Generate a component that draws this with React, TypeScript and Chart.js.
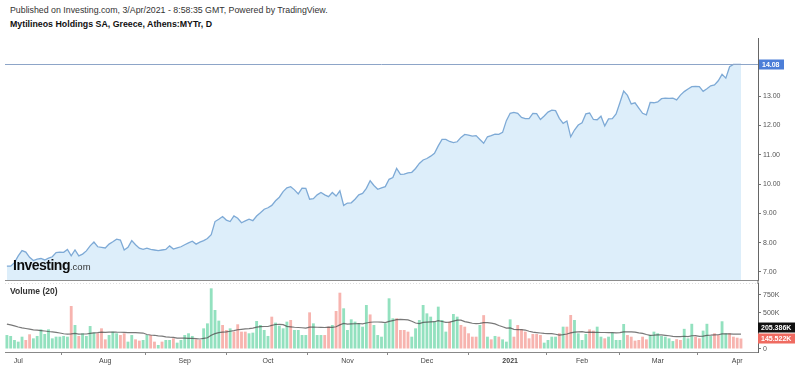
import React, { useEffect, useRef } from 'react';
import { Chart, registerables } from 'chart.js';

Chart.register(...registerables);

const FONT = "'Liberation Sans', Arial, Helvetica, sans-serif";

// ---- calendar (Athens exchange trading days) ----
const startDate = '2020-06-26';
const endDate = '2021-04-02';
const exchangeHolidays = ['2020-10-28', '2020-12-25', '2021-01-01', '2021-01-06', '2021-03-15', '2021-03-25'];
const emptySlotsAfterLast = 4;

// ---- month tick labels (first trading day of each month) ----
const monthTickLabels = ['Jul', 'Aug', 'Sep', 'Oct', 'Nov', 'Dec', '2021', 'Feb', 'Mar', 'Apr'];
const boldTickLabels = ['2021'];

// ---- axis ticks ----
const priceTicks = [7, 8, 9, 10, 11, 12, 13];
const volumeTicksK = [0, 500, 750];

// ---- daily close (EUR) ----
const closePrices = [
  7.20, 7.20, 7.32, 7.55, 7.73, 7.68, 7.50, 7.39, 7.44, 7.46,
  7.41, 7.47, 7.52, 7.66, 7.68, 7.67, 7.77, 7.55, 7.75, 7.55,
  7.61, 7.72, 7.89, 8.02, 7.86, 7.84, 7.82, 7.95, 8.03, 8.12,
  8.09, 7.75, 7.84, 8.07, 7.93, 7.81, 7.77, 7.81, 7.77, 7.75,
  7.73, 7.75, 7.77, 7.89, 7.78, 7.82, 7.86, 7.93, 7.99, 8.05,
  7.95, 8.02, 8.07, 8.14, 8.27, 8.72, 8.80, 8.89, 8.77, 8.72,
  8.91, 8.83, 8.68, 8.74, 8.80, 8.75, 8.91, 9.02, 9.14, 9.19,
  9.27, 9.43, 9.55, 9.74, 9.87, 9.91, 9.80, 9.66, 9.86, 9.85,
  9.48, 9.50, 9.63, 9.71, 9.63, 9.57, 9.71, 9.59, 9.77, 9.27,
  9.35, 9.36, 9.48, 9.63, 9.68, 9.85, 10.11, 9.95, 9.82, 9.87,
  9.91, 10.16, 10.22, 10.53, 10.33, 10.34, 10.38, 10.40, 10.53, 10.70,
  10.82, 10.87, 10.95, 11.05, 11.30, 11.52, 11.52, 11.45, 11.41, 11.44,
  11.59, 11.69, 11.67, 11.63, 11.65, 11.52, 11.39, 11.61, 11.65, 11.70,
  11.69, 11.76, 12.16, 12.41, 12.44, 12.41, 12.27, 12.23, 12.23, 12.41,
  12.40, 12.20, 12.32, 12.45, 12.52, 12.50, 12.24, 12.07, 12.15, 11.61,
  11.84, 12.01, 12.09, 12.39, 12.42, 12.20, 12.19, 12.31, 11.98, 12.22,
  12.23, 12.39, 12.77, 13.17, 13.02, 12.73, 12.77, 12.59, 12.41, 12.36,
  12.78, 12.77, 12.80, 12.91, 12.93, 12.92, 12.93, 12.87, 13.03, 13.15,
  13.24, 13.32, 13.33, 13.32, 13.16, 13.25, 13.35, 13.38, 13.52, 13.74,
  13.61, 14.00, 14.08, 14.08, 14.08,
];

// ---- daily volume (thousands of shares) ----
const volumesK = [
  194, 181, 125, 102, 171, 125, 204, 148, 181, 273,
  208, 273, 148, 171, 171, 181, 171, 597, 333, 181,
  218, 181, 319, 227, 218, 287, 134, 194, 241, 218,
  194, 218, 102, 194, 134, 116, 125, 194, 194, 102,
  56, 102, 125, 125, 148, 88, 125, 194, 218, 181,
  134, 125, 287, 356, 843, 542, 394, 333, 264, 287,
  241, 343, 241, 241, 218, 227, 389, 333, 264, 181,
  449, 366, 324, 287, 380, 403, 264, 264, 194, 194,
  509, 356, 194, 194, 194, 310, 333, 528, 782, 565,
  264, 412, 380, 356, 310, 611, 480, 333, 194, 171,
  356, 704, 426, 426, 264, 264, 241, 171, 287, 403,
  611, 495, 449, 380, 588, 403, 241, 380, 486, 449,
  333, 310, 218, 171, 171, 333, 470, 171, 134, 181,
  171, 134, 102, 412, 171, 333, 273, 241, 148, 208,
  208, 194, 88, 125, 171, 171, 218, 310, 310, 472,
  403, 218, 125, 208, 273, 255, 310, 171, 148, 171,
  227, 125, 125, 347, 194, 171, 116, 125, 171, 134,
  194, 241, 218, 181, 171, 148, 110, 136.198, 125, 280,
  148, 350, 171, 148, 255, 350, 180, 218, 194, 385,
  218, 218, 171, 157, 145.522,
];

// ---- candle direction per day (u = close above open, d = below) ----
const candleDirection =
  'uuuuudduuu' + 'uuuuuuudud' + 'uuuuddduuu' + 'dduudduudd' + 'uduuduuuuu' +
  'dduuuuuddu' + 'dddduuuuuu' + 'duuuuduuuu' + 'duuudduddu' + 'uuuuuuduuu' +
  'uuudddduuu' + 'uuuuuuuduu' + 'dddddududu' + 'duuudddddd' + 'dduuuududd' +
  'uuuudduudu' + 'uuuudddddd' + 'uuuuuuuddu' + 'uudduuuddu' + 'udddd';

// ---- Volume MA(20): first 19 values (earlier history not shown) ----
const volumeMAStartK = [345, 335, 322, 305, 293, 285, 276, 266, 261, 256, 250, 243, 238, 231, 222, 212, 207, 210, 216];
const maPeriod = 20;

function isoDay(d: Date) {
  return d.toISOString().slice(0, 10);
}

function buildTradingDays(): string[] {
  const out: string[] = [];
  const [sy, sm, sd] = startDate.split('-').map(Number);
  const d = new Date(Date.UTC(sy, sm - 1, sd));
  while (isoDay(d) <= endDate) {
    const wd = d.getUTCDay();
    const s = isoDay(d);
    if (wd !== 0 && wd !== 6 && !exchangeHolidays.includes(s)) out.push(s);
    d.setUTCDate(d.getUTCDate() + 1);
  }
  return out;
}

function noPad(s: any) {
  s.paddingTop = 0;
  s.paddingBottom = 0;
  s.paddingLeft = 0;
  s.paddingRight = 0;
}

export default function App() {
  const priceRef = useRef<HTMLCanvasElement | null>(null);
  const volRef = useRef<HTMLCanvasElement | null>(null);

  useEffect(() => {
    document.body.style.margin = '0';
    const days = buildTradingDays();
    const categories = [...days];
    for (let i = 0; i < emptySlotsAfterLast; i++) categories.push('');

    const monthIdx: number[] = [];
    for (let i = 1; i < days.length; i++) {
      if (days[i].slice(0, 7) !== days[i - 1].slice(0, 7)) monthIdx.push(i);
    }
    const tickLabelByIdx: Record<number, string> = {};
    monthIdx.forEach((idx, k) => {
      tickLabelByIdx[idx] = monthTickLabels[k] ?? '';
    });

    const ma: number[] = volumesK.map((_, i) => {
      if (i < maPeriod - 1) return volumeMAStartK[i];
      let s = 0;
      for (let j = i - maPeriod + 1; j <= i; j++) s += volumesK[j];
      return s / maPeriod;
    });

    const upColor = '#93e1bf';
    const downColor = '#f7b4af';
    const barColors = volumesK.map((_, i) => (candleDirection[i] === 'd' ? downColor : upColor));
    const lastPrice = closePrices[closePrices.length - 1];

    const pricePlugin = {
      id: 'lastPriceMarker',
      afterDraw(chart: any) {
        const { ctx, chartArea, scales } = chart;
        const y = Math.round(scales.y.getPixelForValue(lastPrice)) + 0.5;
        ctx.save();
        ctx.strokeStyle = '#8da5c8';
        ctx.lineWidth = 1;
        ctx.beginPath();
        ctx.moveTo(chartArea.left, y);
        ctx.lineTo(chartArea.right, y);
        ctx.stroke();
        ctx.fillStyle = '#4c7ed8';
        ctx.fillRect(chartArea.right + 1, y - 5, 25, 10);
        ctx.fillStyle = '#ffffff';
        ctx.font = `bold 7px ${FONT}`;
        ctx.textBaseline = 'middle';
        ctx.textAlign = 'left';
        ctx.fillText(lastPrice.toFixed(2), chartArea.right + 4, y + 0.5);
        ctx.restore();
      },
    };

    const volPlugin = {
      id: 'volumeMarkers',
      afterDraw(chart: any) {
        const { ctx, chartArea, scales } = chart;
        ctx.save();
        ctx.fillStyle = '#8c8c8c';
        ctx.fillRect(chartArea.left, 0, chartArea.right - chartArea.left + 1, 1);
        ctx.fillStyle = '#666';
        ctx.fillRect(chartArea.right - 0.5, 0, 1, chartArea.top + 1);
        ctx.strokeStyle = '#dedede';
        ctx.setLineDash([1, 2]);
        ctx.beginPath();
        ctx.moveTo(chartArea.left, chartArea.top + 0.5);
        ctx.lineTo(chartArea.right, chartArea.top + 0.5);
        ctx.stroke();
        ctx.setLineDash([]);
        const lastVol = volumesK[volumesK.length - 1];
        const lastMa = ma[ma.length - 1];
        const yV = scales.y.getPixelForValue(lastVol);
        let yM = scales.y.getPixelForValue(lastMa);
        if (yM > yV - 11) yM = yV - 11;
        const bx = chartArea.right;
        ctx.font = `bold 7px ${FONT}`;
        ctx.textBaseline = 'middle';
        ctx.textAlign = 'left';
        ctx.fillStyle = '#111111';
        ctx.fillRect(bx, yM - 5, 37, 10);
        ctx.fillStyle = '#ffffff';
        ctx.fillText(`${lastMa.toFixed(3)}K`, bx + 3, yM + 0.5);
        ctx.fillStyle = '#ef6b61';
        ctx.fillRect(bx, yV - 5, 37, 10);
        ctx.fillStyle = '#ffffff';
        ctx.fillText(`${lastVol.toFixed(3)}K`, bx + 3, yV + 0.5);
        ctx.restore();
      },
    };

    const priceChart = new Chart(priceRef.current as HTMLCanvasElement, {
      type: 'line',
      data: {
        labels: categories,
        datasets: [
          {
            data: closePrices,
            borderColor: '#7eaad6',
            borderWidth: 1.3,
            backgroundColor: '#ddeefa',
            fill: 'start',
            pointRadius: 0,
            tension: 0,
          },
        ],
      },
      options: {
        animation: false,
        responsive: false,
        maintainAspectRatio: false,
        devicePixelRatio: 1,
        layout: { padding: { left: 5, right: 0, top: 0, bottom: 0 }, autoPadding: false },
        plugins: { legend: { display: false }, tooltip: { enabled: false } },
        scales: {
          x: { type: 'category', offset: true, display: false, afterFit: noPad },
          y: {
            position: 'right',
            min: 6.727,
            max: 14.978,
            afterFit: (s: any) => {
              s.width = 42;
              noPad(s);
            },
            afterBuildTicks: (s: any) => {
              s.ticks = priceTicks.map((v) => ({ value: v }));
            },
            ticks: {
              callback: (v: any) => Number(v).toFixed(2),
              font: { family: FONT, size: 7 },
              color: '#555',
              padding: 2,
            },
            grid: { drawOnChartArea: false, drawTicks: true, tickLength: 3, color: '#777' },
            border: { display: true, color: '#666', width: 1 },
          },
        },
      },
      plugins: [pricePlugin],
    } as any);

    const volChart = new Chart(volRef.current as HTMLCanvasElement, {
      type: 'bar',
      data: {
        labels: categories,
        datasets: [
          {
            type: 'line',
            data: ma,
            borderColor: 'rgba(75,75,75,0.75)',
            borderWidth: 1.2,
            pointRadius: 0,
            tension: 0,
            fill: false,
            order: 0,
          },
          {
            type: 'bar',
            data: volumesK,
            backgroundColor: barColors,
            barPercentage: 0.75,
            categoryPercentage: 1,
            order: 1,
          },
        ],
      },
      options: {
        animation: false,
        responsive: false,
        maintainAspectRatio: false,
        devicePixelRatio: 1,
        layout: { padding: { left: 5, right: 0, top: 3, bottom: 0 }, autoPadding: false },
        plugins: { legend: { display: false }, tooltip: { enabled: false } },
        scales: {
          x: {
            type: 'category',
            offset: true,
            afterFit: (s: any) => {
              s.height = 17;
              noPad(s);
            },
            afterBuildTicks: (s: any) => {
              s.ticks = monthIdx.map((i) => ({ value: i }));
            },
            ticks: {
              autoSkip: false,
              maxRotation: 0,
              minRotation: 0,
              padding: 2,
              color: '#444',
              callback: (v: any) => tickLabelByIdx[Number(v)] ?? '',
              font: (c: any) => ({
                family: FONT,
                size: 7,
                weight: c.tick && boldTickLabels.includes(tickLabelByIdx[c.tick.value]) ? 'bold' : 'normal',
              }),
            },
            grid: { drawOnChartArea: false, drawTicks: true, tickLength: 3, color: '#888' },
            border: { display: true, color: '#888', width: 1 },
          },
          y: {
            position: 'right',
            min: -41.7,
            max: 916.6,
            afterFit: (s: any) => {
              s.width = 42;
              noPad(s);
            },
            afterBuildTicks: (s: any) => {
              s.ticks = volumeTicksK.map((v) => ({ value: v }));
            },
            ticks: {
              callback: (v: any) => (Number(v) === 0 ? '0' : `${v}K`),
              font: { family: FONT, size: 7 },
              color: '#555',
              padding: 2,
            },
            grid: { drawOnChartArea: false, drawTicks: true, tickLength: 3, color: '#777' },
            border: { display: true, color: '#666', width: 1 },
          },
        },
      },
      plugins: [volPlugin],
    } as any);

    return () => {
      priceChart.destroy();
      volChart.destroy();
    };
  }, []);

  return (
    <div style={{ position: 'relative', width: 800, height: 369, background: '#fff', overflow: 'hidden', fontFamily: FONT }}>
      <div style={{ position: 'absolute', left: 10, top: 5, fontSize: 8.8, lineHeight: '11px', color: '#333', whiteSpace: 'nowrap' }}>
        Published on Investing.com, 3/Apr/2021 - 8:58:35 GMT, Powered by TradingView.
      </div>
      <div style={{ position: 'absolute', left: 10, top: 19, fontSize: 8.8, lineHeight: '11px', color: '#111', fontWeight: 'bold', whiteSpace: 'nowrap' }}>
        Mytilineos Holdings SA, Greece, Athens:MYTr, D
      </div>
      <canvas ref={priceRef} width={800} height={242} style={{ position: 'absolute', left: 0, top: 38, width: 800, height: 242 }} />
      <canvas ref={volRef} width={800} height={89} style={{ position: 'absolute', left: 0, top: 280, width: 800, height: 89 }} />
      <div style={{ position: 'absolute', left: 13, top: 257, whiteSpace: 'nowrap', color: '#0d0d0d', lineHeight: '16px' }}>
        <span style={{ fontSize: 14, fontWeight: 900, letterSpacing: -0.5 }}>Investing</span>
        <span style={{ fontSize: 9.5, color: '#333' }}>.com</span>
      </div>
      <div style={{ position: 'absolute', left: 10, top: 286, fontSize: 8.5, lineHeight: '10px', color: '#333', fontWeight: 'bold', whiteSpace: 'nowrap' }}>
        Volume (20)
      </div>
    </div>
  );
}
